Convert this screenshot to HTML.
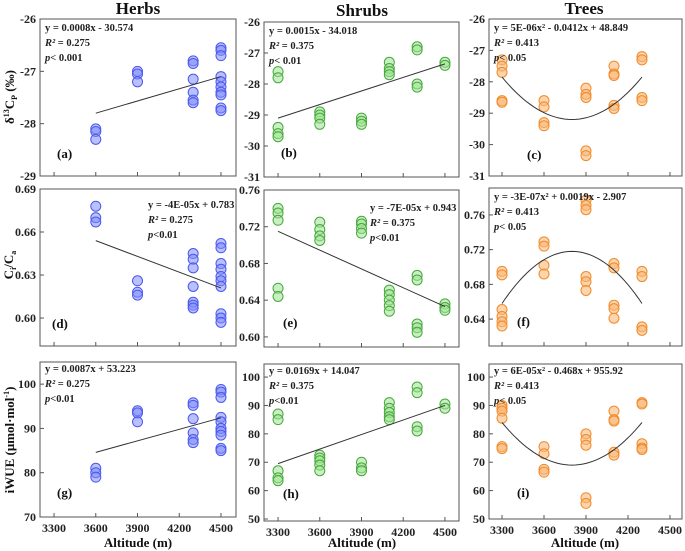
<!DOCTYPE html>
<html><head><meta charset="utf-8">
<style>
html,body{margin:0;padding:0;background:#fff;}
svg{display:block;font-family:"Liberation Serif",serif;}
.tk{font-size:12px;font-weight:bold;fill:#222;}
.eq{font-size:10.5px;font-weight:bold;fill:#222;}
.ttl{font-size:17px;font-weight:bold;fill:#111;}
.ax{font-size:13px;font-weight:bold;fill:#111;}
</style></head>
<body>
<svg id="chart" width="685" height="551" viewBox="0 0 685 551" xmlns="http://www.w3.org/2000/svg">
<text class="ttl" x="138" y="14" text-anchor="middle">Herbs</text>
<text class="ttl" x="362" y="16" text-anchor="middle">Shrubs</text>
<text class="ttl" x="584" y="14" text-anchor="middle">Trees</text>
<text class="ax" transform="translate(14,97) rotate(-90)" text-anchor="middle">δ<tspan font-size="8" dy="-5">13</tspan><tspan dy="5">C</tspan><tspan font-size="8" dy="3">P</tspan><tspan dy="-3"> (‰)</tspan></text>
<text class="ax" transform="translate(13,265) rotate(-90)" text-anchor="middle">C<tspan font-size="8" dy="3">i</tspan><tspan dy="-3">/C</tspan><tspan font-size="8" dy="3">a</tspan></text>
<text class="ax" transform="translate(14,440) rotate(-90)" text-anchor="middle">iWUE (μmol·mol<tspan font-size="8" dy="-5">-1</tspan><tspan dy="5">)</tspan></text>
<text class="ax" x="138" y="547" text-anchor="middle">Altitude (m)</text>
<text class="ax" x="362" y="547" text-anchor="middle">Altitude (m)</text>
<text class="ax" x="585" y="547" text-anchor="middle">Altitude (m)</text>
</svg>
<script>
// ---- data ----
const xTicks = [3300, 3600, 3900, 4200, 4500];
// (a) herbs d13C
const aX = [3600,3600,3600,3900,3900,3900,4300,4300,4300,4300,4300,4300,4500,4500,4500,4500,4500,4500,4500,4500,4500,4500];
const aY = [-28.1,-28.15,-28.3,-27.0,-27.05,-27.2,-26.8,-26.85,-27.15,-27.4,-27.55,-27.6,-26.55,-26.6,-26.7,-27.1,-27.2,-27.3,-27.4,-27.45,-27.7,-27.75];
const aLine = [[3600,-27.8],[4500,-27.1]];
// (b) shrubs d13C
const bX = [3300,3300,3300,3300,3300,3600,3600,3600,3600,3900,3900,3900,4100,4100,4100,4100,4300,4300,4300,4300,4500,4500];
const bY = [-27.6,-27.8,-29.4,-29.6,-29.7,-28.9,-29.0,-29.1,-29.3,-29.1,-29.2,-29.3,-27.3,-27.5,-27.6,-27.7,-26.8,-26.9,-28.0,-28.1,-27.3,-27.4];
const bLine = [[3300,-29.1],[4500,-27.35]];
// (c) trees d13C
const cX = [3300,3300,3300,3300,3300,3600,3600,3600,3600,3900,3900,3900,3900,3900,4100,4100,4100,4100,4100,4300,4300,4300,4300];
const cY = [-27.3,-27.5,-27.7,-28.6,-28.65,-28.6,-28.8,-29.3,-29.4,-28.2,-28.4,-28.5,-30.2,-30.35,-27.5,-27.75,-27.8,-28.75,-28.85,-27.2,-27.3,-28.5,-28.6];
const cCurve = [3800, -29.2, 5.4e-6]; // vertex x, vertex y, curvature
// (d) herbs Ci/Ca
const dX = [3600,3600,3600,3900,3900,3900,4300,4300,4300,4300,4300,4300,4300,4500,4500,4500,4500,4500,4500,4500,4500,4500,4500];
const dY = [0.678,0.670,0.667,0.626,0.618,0.616,0.645,0.641,0.635,0.622,0.611,0.609,0.607,0.652,0.649,0.638,0.634,0.629,0.626,0.622,0.603,0.600,0.597];
const dLine = [[3600,0.654],[4500,0.621]];
// (e) shrubs Ci/Ca
const eX = [3300,3300,3300,3300,3300,3600,3600,3600,3600,3900,3900,3900,3900,4100,4100,4100,4100,4100,4300,4300,4300,4300,4300,4500,4500,4500];
const eY = [0.740,0.735,0.727,0.653,0.644,0.725,0.717,0.710,0.705,0.726,0.723,0.718,0.713,0.651,0.646,0.640,0.634,0.628,0.667,0.662,0.614,0.610,0.605,0.636,0.632,0.629];
const eLine = [[3300,0.715],[4500,0.633]];
// (f) trees Ci/Ca
const fX = [3300,3300,3300,3300,3300,3300,3600,3600,3600,3600,3900,3900,3900,3900,3900,3900,4100,4100,4100,4100,4100,4300,4300,4300,4300];
const fY = [0.695,0.691,0.651,0.643,0.637,0.632,0.729,0.724,0.702,0.692,0.777,0.771,0.766,0.689,0.683,0.673,0.704,0.699,0.656,0.652,0.641,0.695,0.689,0.631,0.627];
const fCurve = [3800, 0.718, -2.4e-7];
// (g) herbs iWUE
const gX = [3600,3600,3600,3900,3900,3900,4300,4300,4300,4300,4300,4300,4500,4500,4500,4500,4500,4500,4500,4500,4500,4500];
const gY = [81,80,79,94,93.5,91.5,95.8,95.2,92.2,89,87.5,86.8,98.8,98.2,97,92.5,91.5,90,89.3,88.5,85.5,85];
const gLine = [[3600,84.6],[4500,92.4]];
// (h) shrubs iWUE
const hX = [3300,3300,3300,3300,3300,3600,3600,3600,3600,3600,3900,3900,3900,4100,4100,4100,4100,4100,4300,4300,4300,4300,4500,4500];
const hY = [87,85,67,64.5,63.5,72.5,71.5,70.5,69,67,70,68,67,91,89,87.5,86,85,96.5,94.5,82.5,81,90.5,89];
const hLine = [[3300,69.5],[4500,90]];
// (i) trees iWUE
const iX = [3300,3300,3300,3300,3300,3300,3600,3600,3600,3600,3900,3900,3900,3900,3900,4100,4100,4100,4100,4100,4300,4300,4300,4300,4300];
const iY = [90,89,88,85.5,75.5,74.8,75.5,73,67.5,66.5,80,78,76,57.5,55.5,88,85,84.5,73.5,72.5,91,90.5,76.5,75,74.5];
const iCurve = [3800, 69, 6e-5];

const yTicksA = [-26,-27,-28,-29];
const yTicksBC = [-26,-27,-28,-29,-30,-31];
const yTicksD = [0.69,0.66,0.63,0.60];
const yTicksE = [0.76,0.72,0.68,0.64,0.60];
const yTicksF = [0.76,0.72,0.68,0.64];
const yTicksG = [100,90,80,70];
const yTicksHI = [100,90,80,70,60,50];

// ---- drawing ----
const NS = "http://www.w3.org/2000/svg";
const svg = document.getElementById('chart');
function mk(tag, attrs, parent){ const e=document.createElementNS(NS,tag); for(const k in attrs) e.setAttribute(k,attrs[k]); (parent||svg).appendChild(e); return e; }
const COLORS = {blue:['rgba(130,140,250,0.55)','#4a58ee'], green:['rgba(160,225,150,0.55)','#45a83a'], orange:['rgba(250,185,120,0.6)','#f08a2a']};

const panels = [
 {id:'a',L:40,R:236,T:19,B:176,x0:3199,x1:4608,y0:-29,y1:-26,yt:yTicksA,dec:0,X:aX,Y:aY,line:aLine,col:'blue',eq:['y = 0.0008x - 30.574','R²',' = 0.275','p','< 0.001'],eqx:5,eqy:12,lab:[17,-18]},
 {id:'b',L:264,R:459,T:22,B:177,x0:3199,x1:4601,y0:-31,y1:-26,yt:yTicksBC,dec:0,X:bX,Y:bY,line:bLine,col:'green',eq:['y = 0.0015x - 34.018','R²',' = 0.375','p','< 0.01'],eqx:5,eqy:12,lab:[17,-20]},
 {id:'c',L:489,R:682,T:19,B:176,x0:3207,x1:4586,y0:-31,y1:-26,yt:yTicksBC,dec:0,X:cX,Y:cY,curve:cCurve,cr:[3300,4300],col:'orange',eq:['y = 5E-06x² - 0.0412x + 48.849','R²',' = 0.413','p','< 0.05'],eqx:5,eqy:12,lab:[38,-17]},
 {id:'d',L:40,R:236,T:189,B:346,x0:3199,x1:4608,y0:0.5805,y1:0.69,yt:yTicksD,dec:2,X:dX,Y:dY,line:dLine,col:'blue',eq:['y = -4E-05x + 0.783','R²',' = 0.275','p','<0.01'],eqx:108,eqy:19,lab:[12,-18]},
 {id:'e',L:264,R:459,T:190,B:347,x0:3199,x1:4601,y0:0.589,y1:0.76,yt:yTicksE,dec:2,X:eX,Y:eY,line:eLine,col:'green',eq:['y = -7E-05x + 0.943','R²',' = 0.375','p','<0.01'],eqx:106,eqy:21,lab:[19,-20]},
 {id:'f',L:489,R:682,T:188,B:346,x0:3207,x1:4586,y0:0.609,y1:0.791,yt:yTicksF,dec:2,X:fX,Y:fY,curve:fCurve,cr:[3300,4300],col:'orange',eq:['y = -3E-07x² + 0.0019x - 2.907','R²',' = 0.413','p','< 0.05'],eqx:5,eqy:12,lab:[28,-20]},
 {id:'g',L:40,R:236,T:362,B:517,x0:3199,x1:4608,y0:70,y1:105,yt:yTicksG,dec:0,X:gX,Y:gY,line:gLine,col:'blue',eq:['y = 0.0087x + 53.223','R²',' = 0.275','p','<0.01'],eqx:5,eqy:10,lab:[17,-20],xl:true},
 {id:'h',L:264,R:459,T:364,B:521,x0:3199,x1:4601,y0:49.3,y1:104.6,yt:yTicksHI,dec:0,X:hX,Y:hY,line:hLine,col:'green',eq:['y = 0.0169x + 14.047','R²',' = 0.375','p','<0.01'],eqx:5,eqy:10,lab:[19,-23],xl:true},
 {id:'i',L:489,R:682,T:364,B:519,x0:3207,x1:4586,y0:50,y1:104.6,yt:yTicksHI,dec:0,X:iX,Y:iY,curve:iCurve,cr:[3300,4300],col:'orange',eq:['y = 6E-05x² - 0.468x + 955.92','R²',' = 0.413','p','< 0.05'],eqx:5,eqy:10,lab:[28,-22],xl:true}
];

panels.forEach(p=>{
  const sx = v => p.L + (v-p.x0)/(p.x1-p.x0)*(p.R-p.L);
  const sy = v => p.B - (v-p.y0)/(p.y1-p.y0)*(p.B-p.T);
  const g = mk('g',{});
  
  
  const fr = mk('rect',{x:p.L,y:p.T,width:p.R-p.L,height:p.B-p.T,fill:'none',stroke:'#555','stroke-width':1},g);
  
  
  xTicks.forEach(t=>{
    const x=sx(t);
    const tl = mk('line',{x1:x,x2:x,y1:p.B,y2:p.B-4,stroke:'#555'},g);
    
    
    if(p.xl){
      const tt = mk('text',{x:x,y:p.B+15,'text-anchor':'middle',class:'tk'},g);
      tt.textContent=t;
      
      
    }
  });
  p.yt.forEach(t=>{
    const y=sy(t);
    const yl = mk('line',{x1:p.L,x2:p.L+4,y1:y,y2:y,stroke:'#555'},g);
    
    
    const tt = mk('text',{x:p.L-4,y:y+4,'text-anchor':'end',class:'tk'},g);
    tt.textContent = t.toFixed(p.dec);
    
    
  });
  const [fill,stroke]=COLORS[p.col];
  p.X.forEach((xv,k)=>{
    const c = mk('circle',{cx:sx(xv),cy:sy(p.Y[k]),r:5,fill:fill,stroke:stroke,'stroke-width':1},g);
    
    
  });
  let fit;
  if(p.line){
    fit = mk('line',{x1:sx(p.line[0][0]),y1:sy(p.line[0][1]),x2:sx(p.line[1][0]),y2:sy(p.line[1][1]),stroke:'#333','stroke-width':1},g);
  } else {
    let d='';
    for(let k=0;k<=40;k++){
      const xv = p.cr[0]+(p.cr[1]-p.cr[0])*k/40;
      const yv = p.curve[1]+p.curve[2]*(xv-p.curve[0])*(xv-p.curve[0]);
      d += (k?'L':'M')+sx(xv).toFixed(1)+' '+sy(yv).toFixed(1);
    }
    fit = mk('path',{d:d,fill:'none',stroke:'#333','stroke-width':1},g);
  }
  
  
  const ex = p.L+p.eqx, ey = p.T+p.eqy;
  const t0 = mk('text',{x:ex,y:ey,class:'eq'},g);
  t0.textContent = p.eq[0];
  
  
  const t1 = mk('text',{x:ex,y:ey+15,class:'eq'},g);
  const r1 = mk('tspan',{'font-style':'italic'},t1); r1.textContent=p.eq[1];
  const r2 = mk('tspan',{},t1); r2.textContent=p.eq[2];
  
  
  const t2 = mk('text',{x:ex,y:ey+30,class:'eq'},g);
  const q1 = mk('tspan',{'font-style':'italic'},t2); q1.textContent=p.eq[3];
  const q2 = mk('tspan',{},t2); q2.textContent=p.eq[4];
  
  
  const lb = mk('text',{x:p.L+p.lab[0],y:p.B+p.lab[1],class:'ax'},g);
  lb.textContent='('+p.id+')';
  
  
});
</script>
</body></html>
